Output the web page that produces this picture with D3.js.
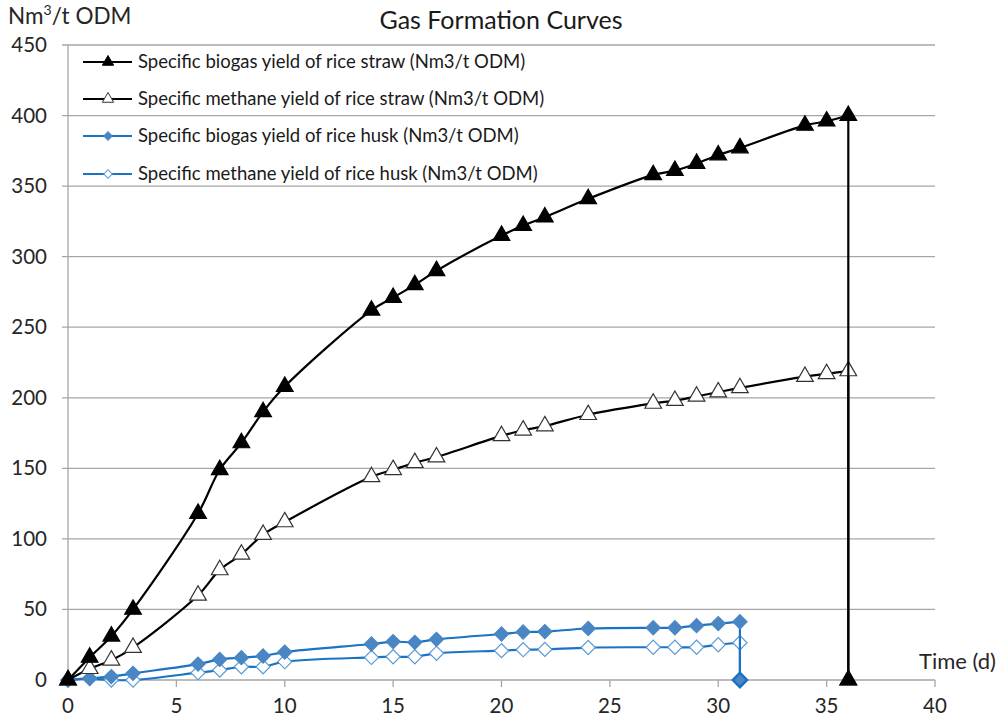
<!DOCTYPE html>
<html><head><meta charset="utf-8">
<script src="https://cdn.jsdelivr.net/npm/d3@7"></script>
<style>body{margin:0;background:#fff;} svg{display:block;font-family:Lato,'Open Sans',sans-serif;}</style>
</head><body>
<svg id="c" width="1004" height="728"></svg>
<script>
const strawDays = [0,1,2,3,6,7,8,9,10,14,15,16,17,20,21,22,24,27,28,29,30,31,34,35,36,36];
const strawBiogas = [0,16,31,50,118,149,168,190,208,262,271,280,290,315,322,328,341,358,361,366,372,377,393,396,400,0];
const strawMethane = [0,8,14,23,60,78,89,103,112,144,149,154,158,173,177,180,188,196,198,201,204,207,215,217,219,0];
const huskDays = [0,1,2,3,6,7,8,9,10,14,15,16,17,20,21,22,24,27,28,29,30,31,31];
const huskBiogas = [0,1.2,2.4,4.7,11.3,14.6,15.8,17,19.8,25.5,27.2,26.7,28.8,32.6,34,34.3,36.5,37,37,38.5,40,41.3,0];
const huskMethane = [0,1,0,0,5.2,7,9.4,9.4,13,16,16.5,16.5,18.9,20.8,21.5,21.7,23,23.2,23.2,23.2,25,26.4,0];
const xTicks = [0,5,10,15,20,25,30,35,40];
const yTicks = [0,50,100,150,200,250,300,350,400,450];
const seriesNames = [
  "Specific biogas yield of rice straw (Nm3/t ODM)",
  "Specific methane yield of rice straw (Nm3/t ODM)",
  "Specific biogas yield of rice husk (Nm3/t ODM)",
  "Specific methane yield of rice husk (Nm3/t ODM)"
];

const svg = d3.select("#c");
const L=68, R=935, T=45, B=680;
const x = d3.scaleLinear().domain([0,40]).range([L,R]);
const y = d3.scaleLinear().domain([0,450]).range([B,T]);
const gridCol = "#a6a6a6";

svg.append("g").selectAll("line").data(yTicks).join("line")
  .attr("x1",L-6).attr("x2",R).attr("y1",d=>y(d)).attr("y2",d=>y(d))
  .attr("stroke",gridCol).attr("stroke-width",1.3);
svg.append("line").attr("x1",L).attr("x2",L).attr("y1",T).attr("y2",B+6).attr("stroke",gridCol).attr("stroke-width",1.3);
svg.append("g").selectAll("line").data(xTicks).join("line")
  .attr("x1",d=>x(d)).attr("x2",d=>x(d)).attr("y1",B).attr("y2",B+7)
  .attr("stroke",gridCol).attr("stroke-width",1.3);
svg.append("g").selectAll("text").data(yTicks).join("text")
  .attr("x",L-21).attr("y",d=>y(d)+7).attr("text-anchor","end")
  .attr("font-size",20.5).attr("fill","#262626").text(d=>d);
svg.append("g").selectAll("text").data(xTicks).join("text")
  .attr("x",d=>x(d)).attr("y",B+33).attr("text-anchor","middle")
  .attr("font-size",20.5).attr("fill","#262626").text(d=>d);

svg.append("text").attr("x",501).attr("y",29).attr("text-anchor","middle").attr("font-size",25).attr("fill","#1a1a1a").text("Gas Formation Curves");
const yl = svg.append("text").attr("x",8).attr("y",24).attr("font-size",22.5).attr("fill","#262626");
yl.append("tspan").text("Nm");
yl.append("tspan").attr("font-size",14).attr("dy",-9).text("3");
yl.append("tspan").attr("dy",9).text("/t ODM");
svg.append("text").attr("x",919).attr("y",669).attr("font-size",22).attr("fill","#262626").text("Time (d)");

const triUp = d3.symbol().type(d3.symbolTriangle).size(120);
const diamond = d3.symbol().type(d3.symbolSquare).size(100);

const series = [
  {days:strawDays, vals:strawBiogas, color:"#000", mk:"tri", fill:"#000", stroke:"#000"},
  {days:strawDays, vals:strawMethane, color:"#000", mk:"tri", fill:"#fff", stroke:"#333"},
  {days:huskDays, vals:huskBiogas, color:"#1a73c4", mk:"dia", fill:"#4a86c4", stroke:"#4a86c4"},
  {days:huskDays, vals:huskMethane, color:"#1a73c4", mk:"dia", fill:"#fff", stroke:"#5b9bd5"}
];
const smooth = d3.line().x(d=>x(d[0])).y(d=>y(d[1])).curve(d3.curveCatmullRom.alpha(0.5));
const straight = d3.line().x(d=>x(d[0])).y(d=>y(d[1]));

[3,2,1,0].forEach(i=>{
  const s = series[i];
  const pts = s.days.map((d,j)=>[d,s.vals[j]]);
  const n = pts.length;
  const g = svg.append("g");
  g.append("path").attr("d",smooth(pts.slice(0,n-1))).attr("fill","none").attr("stroke",s.color).attr("stroke-width",2.2);
  g.append("path").attr("d",straight(pts.slice(n-2))).attr("fill","none").attr("stroke",s.color).attr("stroke-width",2.2);
  g.selectAll("path.m").data(pts).join("path").attr("class","m")
    .attr("d", s.mk==="tri"?triUp:diamond)
    .attr("transform", d=> `translate(${x(d[0])},${y(d[1])})` + (s.mk==="dia"?" rotate(45)":""))
    .attr("fill",s.fill)
    .attr("stroke",(d,j)=> (s.mk==="dia" && j===n-1) ? "#1a6fc0" : s.stroke)
    .attr("stroke-width",(d,j)=> (s.mk==="dia" && j===n-1) ? 2.2 : 1.2);
});

const lg = svg.append("g");
const legY = [62,99,136,174];
series.forEach((s,i)=>{
  lg.append("line").attr("x1",83).attr("x2",132).attr("y1",legY[i]).attr("y2",legY[i]).attr("stroke",s.color).attr("stroke-width",2.2);
  lg.append("path").attr("d", s.mk==="tri"?d3.symbol().type(d3.symbolTriangle).size(55)():d3.symbol().type(d3.symbolSquare).size(36)())
    .attr("transform",`translate(108,${legY[i]})`+(s.mk==="dia"?" rotate(45)":""))
    .attr("fill",s.fill).attr("stroke",s.stroke).attr("stroke-width",1);
  lg.append("text").attr("x",138).attr("y",legY[i]+6).attr("font-size",18.5).attr("fill","#1a1a1a").text(seriesNames[i]);
});
</script>
</body></html>
